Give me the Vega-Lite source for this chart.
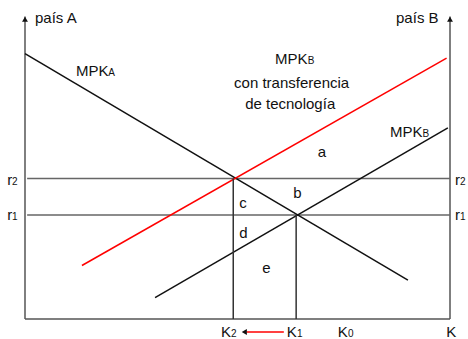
{
  "$schema": "https://vega.github.io/schema/vega-lite/v6.json",
  "width": 468,
  "height": 339,
  "padding": 0,
  "autosize": {"type": "none"},
  "background": "white",
  "config": {"view": {"stroke": null}},
  "datasets": {
    "segs": [
      {"seg": "ejeA", "kind": "axis", "k": 0, "r": 0, "k2": 0, "r2": 99.5},
      {"seg": "ejeB", "kind": "axis", "k": 100, "r": 0, "k2": 100, "r2": 99.5},
      {"seg": "ejeK", "kind": "axis", "k": 0, "r": 0, "k2": 100, "r2": 0},
      {"seg": "r2", "kind": "rate", "k": 0.5, "r": 46.2, "k2": 100, "r2": 46.2},
      {"seg": "r1", "kind": "rate", "k": 0.5, "r": 34.2, "k2": 100, "r2": 34.2},
      {"seg": "MPKA", "kind": "mpk", "k": 0, "r": 87.3, "k2": 90.1, "r2": 12.8},
      {"seg": "MPKB", "kind": "mpk", "k": 30.6, "r": 7.0, "k2": 99.5, "r2": 62.9},
      {"seg": "MPKBt", "kind": "red", "k": 13.4, "r": 17.6, "k2": 99.2, "r2": 85.8},
      {"seg": "K2", "kind": "kline", "k": 49, "r": 0, "k2": 49, "r2": 46.2},
      {"seg": "K1", "kind": "kline", "k": 63.8, "r": 0, "k2": 63.8, "r2": 34.2},
      {"seg": "flecha", "kind": "arrow", "k": 60.9, "r": -4.3, "k2": 52.2, "r2": -4.3}
    ],
    "heads": [
      {"k": 0, "r": 98.6, "dir": "up"},
      {"k": 100, "r": 98.6, "dir": "up"},
      {"k": 51.6, "r": -4.3, "dir": "left"}
    ],
    "labels": [
      {"k": 2.35, "r": 97.4, "text": "país A"},
      {"k": 87.3, "r": 97.4, "text": "país B"},
      {"k": 12.0, "r": 79.9, "text": "MPK"},
      {"k": 58.8, "r": 83.9, "text": "MPK"},
      {"k": 49.2, "r": 76.0, "text": "con transferencia"},
      {"k": 51.8, "r": 69.1, "text": "de tecnología"},
      {"k": 85.9, "r": 59.9, "text": "MPK"},
      {"k": 68.9, "r": 53.3, "text": "a"},
      {"k": 63.1, "r": 39.8, "text": "b"},
      {"k": 50.4, "r": 36.5, "text": "c"},
      {"k": 50.4, "r": 26.6, "text": "d"},
      {"k": 55.8, "r": 15.1, "text": "e"},
      {"k": -4.2, "r": 44.1, "text": "r"},
      {"k": -4.2, "r": 32.6, "text": "r"},
      {"k": 101.2, "r": 44.1, "text": "r"},
      {"k": 101.2, "r": 32.6, "text": "r"},
      {"k": 46.1, "r": -5.9, "text": "K"},
      {"k": 61.6, "r": -5.9, "text": "K"},
      {"k": 73.6, "r": -5.9, "text": "K"},
      {"k": 99.1, "r": -5.9, "text": "K"}
    ],
    "subs": [
      {"k": 19.6, "r": 79.9, "text": "A"},
      {"k": 66.5, "r": 83.9, "text": "B"},
      {"k": 93.5, "r": 59.9, "text": "B"},
      {"k": -3.06, "r": 44.1, "text": "2"},
      {"k": -3.06, "r": 32.6, "text": "1"},
      {"k": 102.35, "r": 44.1, "text": "2"},
      {"k": 102.35, "r": 32.6, "text": "1"},
      {"k": 48.5, "r": -5.9, "text": "2"},
      {"k": 64.0, "r": -5.9, "text": "1"},
      {"k": 76.0, "r": -5.9, "text": "0"}
    ]
  },
  "layer": [
    {
      "data": {"name": "segs"},
      "mark": {"type": "rule"},
      "encoding": {
        "x": {"field": "k", "type": "quantitative", "scale": {"domain": [-5.882, 104.235], "nice": false, "zero": false}, "axis": null},
        "y": {"field": "r", "type": "quantitative", "scale": {"domain": [-6.579, 104.934], "nice": false, "zero": false}, "axis": null},
        "x2": {"field": "k2"},
        "y2": {"field": "r2"},
        "detail": {"field": "seg"},
        "color": {"field": "kind", "type": "nominal", "legend": null,
          "scale": {"domain": ["axis", "rate", "mpk", "red", "kline", "arrow"], "range": ["#555555", "#666666", "#111111", "#ff0000", "#333333", "#ff0000"]}},
        "strokeWidth": {"field": "kind", "type": "nominal", "legend": null,
          "scale": {"domain": ["axis", "rate", "mpk", "red", "kline", "arrow"], "range": [1.5, 1.5, 1.1, 1.3, 1.3, 1.3]}}
      }
    },
    {
      "data": {"name": "heads"},
      "mark": {"type": "point", "filled": true, "size": 35, "color": "#111111", "opacity": 1},
      "encoding": {
        "x": {"field": "k", "type": "quantitative", "axis": null},
        "y": {"field": "r", "type": "quantitative", "axis": null},
        "shape": {"field": "dir", "type": "nominal", "legend": null,
          "scale": {"domain": ["up", "left"], "range": ["triangle-up", "triangle-left"]}}
      }
    },
    {
      "data": {"name": "labels"},
      "mark": {"type": "text", "font": "Liberation Sans", "fontSize": 15, "align": "left", "baseline": "alphabetic", "color": "#111111"},
      "encoding": {
        "x": {"field": "k", "type": "quantitative", "axis": null},
        "y": {"field": "r", "type": "quantitative", "axis": null},
        "text": {"field": "text"}
      }
    },
    {
      "data": {"name": "subs"},
      "mark": {"type": "text", "font": "Liberation Sans", "fontSize": 10, "align": "left", "baseline": "alphabetic", "color": "#111111"},
      "encoding": {
        "x": {"field": "k", "type": "quantitative", "axis": null},
        "y": {"field": "r", "type": "quantitative", "axis": null},
        "text": {"field": "text"}
      }
    }
  ]
}
